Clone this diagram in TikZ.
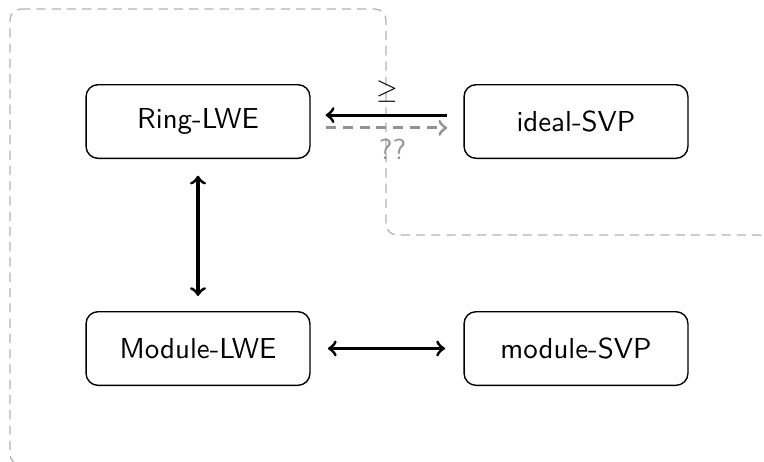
\documentclass[tikz,border=0pt]{standalone}
\usetikzlibrary{calc}
\begin{document}
\begin{tikzpicture}[x=0.36pt,y=-0.36pt,
  box/.style={draw=black, line width=0.5pt, rounded corners=4.3pt, minimum width=80.6pt, minimum height=26.5pt, inner sep=0pt, font=\sffamily\fontsize{10.4}{12}\selectfont},
  conn/.style={line width=1.1pt, black},
  maybe/.style={line width=1.1pt, gray!85, dash pattern=on 3.6pt off 2.5pt},
  region/.style={draw=gray!60, line width=0.45pt, dash pattern=on 3.3pt off 2.2pt, rounded corners=4pt}]
\useasboundingbox (0,0) rectangle (764,461);
\clip (0,0) rectangle (764,461);
\draw[region] (10,9) -- (386,9) -- (386,235) -- (770,235) -- (770,465) -- (10,465) -- cycle;
\node[box] (ring) at (198,121.5) {Ring-LWE};
\node[box] (ideal) at (576,121.5) {ideal-SVP};
\node[box] (mlwe) at (198,348.5) {Module-LWE};
\node[box] (msvp) at (576,348.5) {module-SVP};
\draw[conn, <-, shorten <=5.4pt, shorten >=5.8pt] ([yshift=2.3pt]ring.east) -- ([yshift=2.3pt]ideal.west) node[midway, above=0.8pt] {$\geq$};
\draw[maybe, ->, shorten <=5.4pt, shorten >=5.8pt] ([yshift=-2.3pt]ring.east) -- ([yshift=-2.3pt]ideal.west) node[midway, below=0pt, xshift=2pt, text=gray!85, font=\sffamily\fontsize{10.4}{12}\selectfont] {??};
\draw[conn, <->, shorten <=6pt, shorten >=5.4pt] (ring.south) -- (mlwe.north);
\draw[conn, <->, shorten <=6.2pt, shorten >=6.6pt] (mlwe.east) -- (msvp.west);
\end{tikzpicture}
\end{document}
